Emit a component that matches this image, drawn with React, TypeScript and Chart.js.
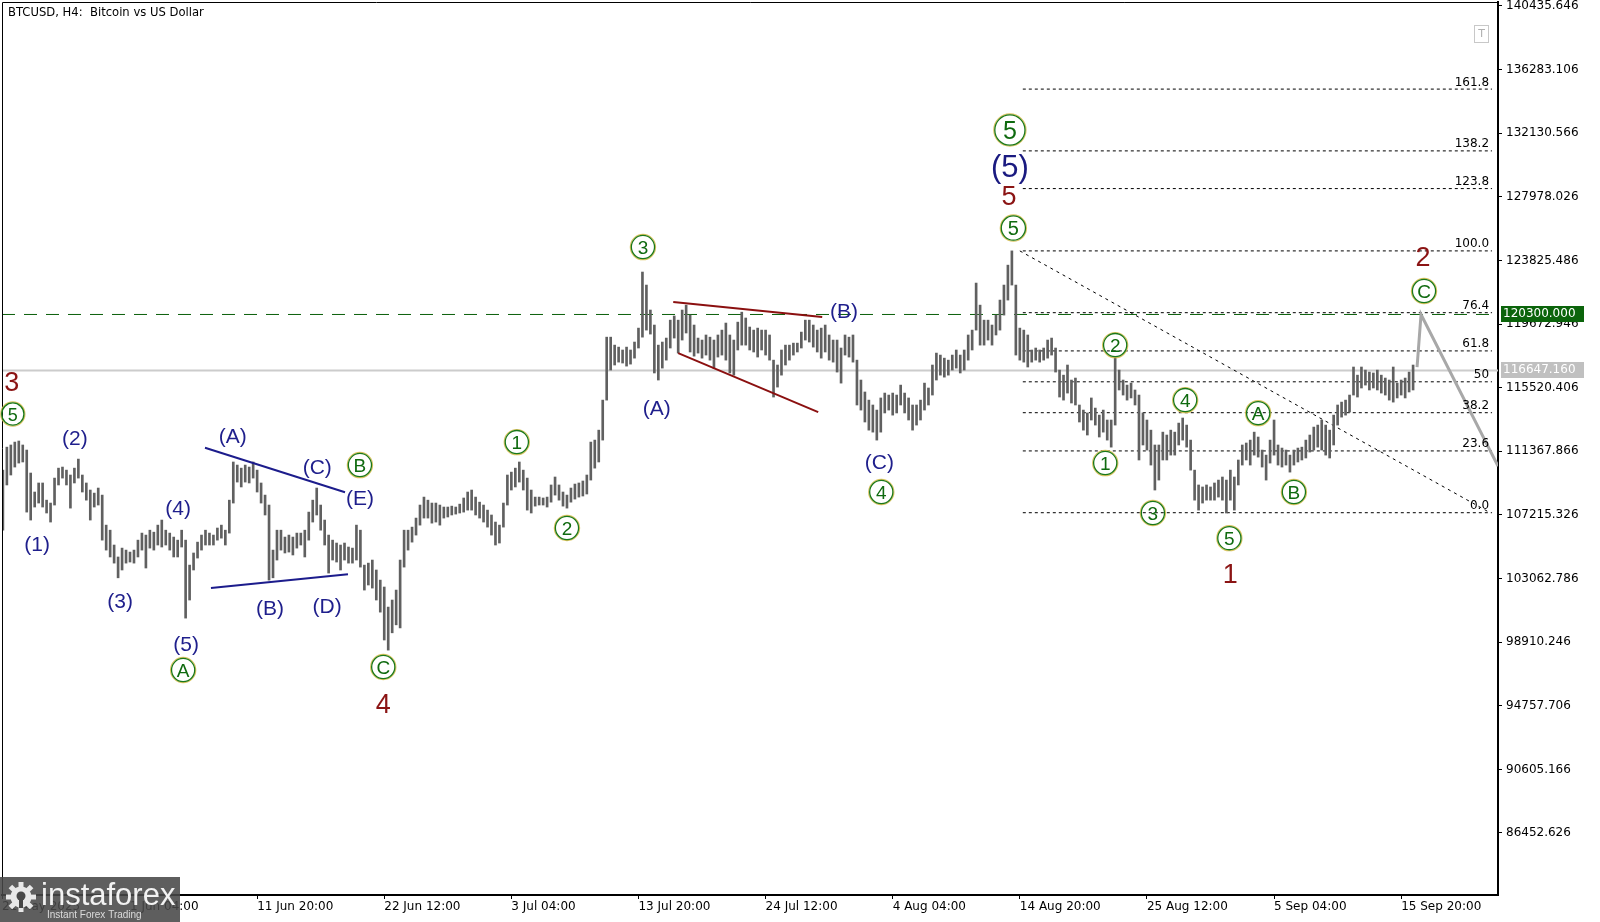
import React, { useEffect, useRef } from 'react';
import { Chart, registerables } from 'chart.js';

Chart.register(...registerables);

// ---- DATA ----
// BTCUSD, one bar per 8 hours, hours counted from 21 May 2025 00:00. Prices in thousands of USD.
const barStartHour = 12;
const barStepHours = 8;

const barHighs = [
  110.14, 111.64, 111.78, 111.97, 112.04, 111.78, 111.45, 109.95, 108.71, 109.30,
  109.30, 108.18, 107.99, 109.62, 110.27, 110.34, 110.14, 109.82, 110.27, 110.86,
  109.82, 109.30, 108.84, 108.64, 108.97, 108.51, 106.55, 106.22, 105.25, 104.47,
  105.05, 104.92, 104.79, 104.92, 105.57, 106.03, 105.90, 106.22, 106.09, 106.55,
  106.88, 106.22, 106.03, 105.77, 105.57, 106.22, 105.57, 103.94, 104.73, 105.44,
  105.90, 106.22, 106.03, 105.90, 106.36, 106.55, 106.22, 108.18, 110.67, 110.47,
  110.27, 110.47, 110.34, 110.67, 110.14, 109.30, 108.51, 107.86, 104.92, 106.22,
  106.22, 105.77, 105.90, 105.77, 106.03, 106.03, 106.22, 107.40, 108.18, 108.97,
  107.86, 106.88, 105.90, 105.57, 105.38, 105.25, 105.38, 105.12, 105.05, 106.55,
  106.22, 103.94, 104.07, 104.27, 103.62, 102.96, 102.51, 101.20, 101.66, 102.31,
  104.27, 106.22, 106.22, 106.42, 107.01, 107.86, 108.38, 108.18, 107.99, 107.99,
  107.86, 107.73, 107.73, 107.79, 107.73, 107.92, 108.32, 108.71, 108.84, 108.38,
  108.05, 107.86, 107.53, 107.21, 106.75, 106.55, 107.99, 109.82, 110.01, 110.27,
  110.67, 110.14, 109.62, 108.84, 108.38, 108.38, 108.32, 108.38, 109.17, 109.69,
  109.17, 108.71, 108.51, 108.97, 109.23, 109.30, 109.43, 109.82, 111.97, 112.10,
  112.75, 114.71, 118.82, 118.82, 118.30, 118.17, 117.98, 118.17, 117.98, 118.50,
  119.41, 123.07, 122.22, 120.59, 119.61, 118.30, 118.50, 118.76, 119.93, 120.20,
  119.93, 120.59, 120.91, 120.26, 119.61, 118.76, 118.63, 118.96, 118.82, 118.63,
  118.96, 119.28, 119.74, 118.96, 118.63, 119.80, 120.45, 120.07, 119.48, 119.28,
  119.41, 119.28, 119.28, 118.96, 117.32, 117.00, 117.98, 118.30, 118.30, 118.43,
  118.43, 119.15, 119.93, 119.93, 119.61, 119.28, 119.41, 119.61, 118.96, 118.63,
  118.63, 118.11, 118.96, 118.82, 118.96, 117.32, 116.02, 115.24, 114.71, 114.39,
  114.06, 114.85, 115.17, 115.04, 115.17, 115.04, 115.69, 115.17, 114.85, 114.39,
  114.39, 114.71, 115.82, 115.50, 117.00, 117.78, 117.65, 117.45, 117.32, 117.65,
  117.98, 117.65, 117.98, 118.96, 119.28, 122.35, 120.91, 119.93, 119.93, 119.61,
  120.26, 121.24, 122.22, 123.52, 124.45, 122.22, 119.41, 119.28, 118.96, 117.98,
  118.11, 117.98, 118.11, 118.63, 118.76, 118.11, 116.67, 116.34, 117.00, 116.02,
  116.15, 114.39, 114.06, 113.87, 114.85, 114.19, 113.73, 114.06, 113.41, 113.41,
  117.52, 116.67, 116.02, 115.69, 115.82, 115.37, 115.04, 113.87, 113.41, 112.75,
  111.78, 111.78, 112.62, 112.43, 112.75, 112.62, 113.21, 113.54, 113.08, 112.10,
  110.14, 109.17, 109.04, 109.17, 109.04, 109.30, 109.49, 109.69, 109.49, 110.14,
  109.69, 110.80, 111.78, 111.91, 112.10, 112.62, 112.30, 111.45, 111.12, 112.10,
  113.41, 111.78, 111.58, 111.45, 111.12, 111.45, 111.58, 111.64, 112.10, 112.43,
  112.95, 113.08, 113.41, 113.08, 112.75, 113.73, 114.39, 114.58, 114.71, 115.04,
  116.87, 116.34, 116.87, 116.67, 116.54, 116.48, 116.67, 116.34, 116.15, 116.02,
  116.87, 115.82, 116.02, 116.15, 116.54, 117.00,
];

const barLows = [
  106.22, 109.17, 109.82, 110.34, 110.60, 110.67, 107.40, 106.88, 107.73, 107.99,
  107.73, 107.34, 106.75, 107.86, 109.17, 109.62, 109.17, 107.66, 109.30, 109.62,
  108.71, 108.18, 106.88, 107.73, 107.86, 105.57, 104.92, 104.47, 104.07, 103.11,
  103.62, 104.07, 104.14, 104.07, 104.47, 104.92, 103.75, 105.05, 104.92, 105.25,
  105.12, 105.25, 104.92, 104.47, 104.47, 105.12, 100.48, 101.66, 103.62, 104.40,
  104.92, 105.25, 105.25, 105.25, 105.57, 105.70, 105.25, 106.03, 107.99, 109.36,
  109.04, 109.36, 109.30, 109.62, 108.71, 107.99, 107.21, 102.96, 103.11, 104.27,
  104.92, 104.73, 104.79, 104.60, 105.05, 105.25, 104.47, 105.57, 106.75, 107.21,
  106.22, 105.25, 103.42, 104.27, 104.14, 103.62, 104.27, 104.07, 104.07, 104.27,
  103.81, 102.31, 102.64, 102.44, 101.66, 100.87, 99.05, 98.39, 99.52, 100.04,
  99.84, 103.81, 104.92, 105.44, 105.90, 106.55, 107.01, 107.01, 106.68, 106.75,
  106.55, 107.01, 107.08, 107.21, 107.27, 107.34, 107.40, 107.53, 107.53, 107.21,
  107.01, 106.75, 106.42, 105.90, 105.25, 105.38, 106.42, 107.86, 108.84, 109.04,
  109.36, 108.84, 107.53, 107.34, 107.79, 107.86, 107.86, 107.73, 108.05, 108.51,
  108.18, 107.79, 107.66, 108.05, 108.25, 108.38, 108.45, 108.58, 109.49, 110.27,
  110.67, 112.10, 114.71, 116.67, 117.00, 117.19, 117.13, 116.93, 117.06, 117.45,
  118.11, 118.82, 119.28, 119.02, 116.48, 116.02, 116.80, 117.32, 118.11, 118.76,
  117.78, 118.63, 119.09, 117.85, 117.58, 117.78, 117.45, 117.65, 117.32, 116.80,
  117.52, 117.65, 117.32, 116.48, 116.34, 117.98, 118.30, 118.30, 117.98, 117.85,
  117.52, 117.98, 117.65, 117.32, 114.91, 115.56, 116.34, 117.00, 117.32, 117.65,
  117.85, 118.11, 118.63, 118.50, 118.17, 117.85, 117.45, 117.85, 117.32, 117.19,
  116.54, 115.82, 117.65, 117.52, 117.19, 114.39, 114.06, 113.28, 112.75, 112.62,
  112.10, 112.62, 113.87, 114.06, 113.73, 113.87, 114.39, 113.87, 113.41, 112.75,
  113.08, 113.41, 114.06, 114.39, 115.04, 116.02, 116.34, 116.21, 116.34, 116.67,
  116.80, 116.48, 116.67, 117.32, 117.98, 119.28, 118.30, 118.30, 118.63, 118.30,
  118.96, 119.28, 120.26, 121.24, 122.22, 117.65, 117.32, 117.19, 116.87, 117.19,
  117.32, 117.19, 117.32, 117.45, 117.65, 116.54, 114.91, 114.71, 115.17, 114.52,
  114.39, 113.28, 112.75, 112.43, 113.41, 113.08, 112.30, 112.62, 112.10, 111.64,
  113.08, 115.37, 115.04, 114.71, 114.85, 114.39, 110.80, 111.78, 111.45, 110.47,
  108.84, 109.49, 110.80, 110.80, 111.12, 111.12, 111.78, 112.10, 111.64, 110.14,
  108.18, 107.53, 107.99, 108.18, 108.18, 108.18, 108.38, 108.18, 107.34, 108.18,
  107.53, 109.17, 110.47, 110.80, 110.47, 111.12, 110.99, 110.34, 109.49, 110.60,
  111.12, 110.47, 110.34, 110.47, 110.01, 110.47, 110.67, 110.80, 110.93, 111.32,
  111.45, 111.64, 111.45, 111.12, 110.93, 111.78, 113.08, 113.60, 113.73, 113.93,
  115.04, 114.91, 115.50, 115.69, 115.37, 115.50, 115.37, 115.17, 115.04, 114.71,
  114.58, 114.85, 115.04, 114.85, 115.24, 115.37,
];

// axis ticks
const priceTicks = [
  86452.626, 90605.166, 94757.706, 98910.246, 103062.786, 107215.326, 111367.866,
  115520.406, 119672.946, 123825.486, 127978.026, 132130.566, 136283.106, 140435.646,
];
const dateTickHours = [10.2, 268, 524, 780, 1036, 1292, 1548, 1804, 2060, 2316, 2572, 2828];
const dateTickLabels = [
  '21 May 2025', '1 Jun 04:00', '11 Jun 20:00', '22 Jun 12:00', '3 Jul 04:00', '13 Jul 20:00',
  '24 Jul 12:00', '4 Aug 04:00', '14 Aug 20:00', '25 Aug 12:00', '5 Sep 04:00', '15 Sep 20:00',
];
const xMinHour = 10.2;
const xMaxHour = 3023;
const yMinK = 82.4055;
const yMaxK = 140.6967;

// levels
const targetLevel = 120.3; // 120300.000
const lastPrice = 116.64716; // 116647.160
const fibLevels = [0, 23.6, 38.2, 50, 61.8, 76.4, 100, 123.8, 138.2, 161.8];
const fibLabels = ['0.0', '23.6', '38.2', '50', '61.8', '76.4', '100.0', '123.8', '138.2', '161.8'];
const fibLow = 107.36;
const fibHigh = 124.45;
const fibStartHour = 2066;
const fibEndHour = 3011;
const fibDiagonal = [{ h: 2060, p: 124.45 }, { h: 3007, p: 107.36 }];

// drawn lines
const projectionPath = [{ h: 2860, p: 116.87 }, { h: 2868, p: 120.3 }, { h: 3023, p: 110.4 }];
const triangleUpper = [{ h: 419, p: 111.6 }, { h: 701, p: 108.7 }];
const triangleLower = [{ h: 431, p: 102.44 }, { h: 707, p: 103.34 }];
const wedgeUpper = [{ h: 1362, p: 121.11 }, { h: 1662, p: 120.13 }];
const wedgeLower = [{ h: 1372, p: 117.78 }, { h: 1654, p: 113.93 }];

// wave labels: text, anchor (hour, price), style
const waveLabels = [
  { text: '3', h: 30, p: 115.95, style: 'red' },
  { text: '5', h: 32, p: 113.8, style: 'circle', d: 23 },
  { text: '(1)', h: 81, p: 105.38, style: 'navy' },
  { text: '(2)', h: 157, p: 112.3, style: 'navy' },
  { text: '(3)', h: 248, p: 101.66, style: 'navy' },
  { text: '(4)', h: 365, p: 107.73, style: 'navy' },
  { text: '(5)', h: 381, p: 98.85, style: 'navy' },
  { text: 'A', h: 375, p: 97.09, style: 'circle', d: 24 },
  { text: '(A)', h: 475, p: 112.43, style: 'navy' },
  { text: '(B)', h: 550, p: 101.2, style: 'navy' },
  { text: '(C)', h: 645, p: 110.4, style: 'navy' },
  { text: '(D)', h: 665, p: 101.33, style: 'navy' },
  { text: '(E)', h: 731, p: 108.38, style: 'navy' },
  { text: 'B', h: 731, p: 110.47, style: 'circle', d: 24 },
  { text: 'C', h: 778, p: 97.29, style: 'circle', d: 24 },
  { text: '4', h: 778, p: 94.94, style: 'red' },
  { text: '1', h: 1047, p: 111.97, style: 'circle', d: 24 },
  { text: '2', h: 1148, p: 106.36, style: 'circle', d: 24 },
  { text: '3', h: 1301, p: 124.7, style: 'circle', d: 24 },
  { text: '(A)', h: 1329, p: 114.26, style: 'navy' },
  { text: '(B)', h: 1706, p: 120.59, style: 'navy' },
  { text: '(C)', h: 1777, p: 110.73, style: 'navy' },
  { text: '4', h: 1781, p: 108.71, style: 'circle', d: 24 },
  { text: '5', h: 2040, p: 132.34, style: 'circle', d: 31 },
  { text: '(5)', h: 2040, p: 129.99, style: 'navyBig' },
  { text: '5', h: 2038, p: 128.09, style: 'red' },
  { text: '5', h: 2047, p: 125.94, style: 'circle', d: 25 },
  { text: '1', h: 2232, p: 110.6, style: 'circle', d: 24 },
  { text: '2', h: 2252, p: 118.3, style: 'circle', d: 24 },
  { text: '3', h: 2328, p: 107.34, style: 'circle', d: 24 },
  { text: '4', h: 2393, p: 114.71, style: 'circle', d: 24 },
  { text: '5', h: 2482, p: 105.7, style: 'circle', d: 24 },
  { text: '1', h: 2484, p: 103.42, style: 'red' },
  { text: 'A', h: 2540, p: 113.86, style: 'circle', d: 24 },
  { text: 'B', h: 2612, p: 108.71, style: 'circle', d: 24 },
  { text: '2', h: 2872, p: 124.11, style: 'red' },
  { text: 'C', h: 2874, p: 121.83, style: 'circle', d: 24 },
];

const AXIS_FONT = '"DejaVu Sans", sans-serif';
const LABEL_FONT = '"Liberation Sans", Arial, sans-serif';

const overlayPlugin = {
  id: 'overlay',
  afterDraw(chart: any) {
    const { ctx, chartArea } = chart;
    const xs = chart.scales.x;
    const ys = chart.scales.y;
    ctx.save();

    // frame left / top
    ctx.strokeStyle = '#000';
    ctx.lineWidth = 1;
    ctx.beginPath();
    ctx.moveTo(2.5, chartArea.bottom);
    ctx.lineTo(2.5, 2.5);
    ctx.lineTo(chartArea.right, 2.5);
    ctx.stroke();

    // fib labels
    ctx.font = `12px ${AXIS_FONT}`;
    ctx.fillStyle = '#000';
    ctx.textAlign = 'right';
    ctx.textBaseline = 'alphabetic';
    const fibRight = xs.getPixelForValue(fibEndHour) - 3;
    fibLevels.forEach((lv, i) => {
      const yy = ys.getPixelForValue(fibLow + (lv / 100) * (fibHigh - fibLow));
      ctx.fillText(fibLabels[i], fibRight, yy - 3.5);
    });

    // wave labels
    waveLabels.forEach((l: any) => {
      const px = xs.getPixelForValue(l.h);
      const py = ys.getPixelForValue(l.p);
      ctx.textAlign = 'center';
      ctx.textBaseline = 'alphabetic';
      if (l.style === 'circle') {
        const d = l.d || 24;
        const r = d / 2;
        ctx.beginPath();
        ctx.arc(px, py, r + 0.6, 0, Math.PI * 2);
        ctx.strokeStyle = 'rgba(214,190,80,0.9)';
        ctx.lineWidth = 1.2;
        ctx.stroke();
        ctx.beginPath();
        ctx.arc(px, py, r - 0.4, 0, Math.PI * 2);
        ctx.strokeStyle = '#1a781a';
        ctx.lineWidth = 1.3;
        ctx.stroke();
        const fs = Math.round(d * 0.8);
        ctx.font = `${fs}px ${LABEL_FONT}`;
        ctx.fillStyle = '#0f6a0f';
        ctx.fillText(l.text, px, py + fs * 0.36);
      } else {
        let fs = 21;
        let color = '#1f1f8c';
        if (l.style === 'red') { fs = 27; color = '#8b1414'; }
        if (l.style === 'navyBig') { fs = 31; color = '#1a1a80'; }
        ctx.font = `${fs}px ${LABEL_FONT}`;
        ctx.fillStyle = color;
        ctx.fillText(l.text, px, py + fs * 0.36);
      }
    });

    // price boxes on axis
    const boxX = chartArea.right + 3;
    const boxW = 83;
    const drawBox = (val: number, bg: string, label: string) => {
      const yy = ys.getPixelForValue(val);
      ctx.fillStyle = bg;
      ctx.fillRect(boxX, Math.round(yy) - 8, boxW, 16);
      ctx.fillStyle = '#fff';
      ctx.font = `12px ${AXIS_FONT}`;
      ctx.textAlign = 'left';
      ctx.textBaseline = 'middle';
      ctx.fillText(label, boxX + 2, Math.round(yy));
    };
    drawBox(targetLevel, '#0b640b', (targetLevel * 1000).toFixed(3));
    drawBox(lastPrice, '#c0c0c0', (lastPrice * 1000).toFixed(3));

    // title
    ctx.fillStyle = '#000';
    ctx.font = `11.6px ${AXIS_FONT}`;
    ctx.textAlign = 'left';
    ctx.textBaseline = 'middle';
    ctx.fillText('BTCUSD, H4:  Bitcoin vs US Dollar', 8, 13);

    // "T" button
    ctx.strokeStyle = '#c8c8c8';
    ctx.lineWidth = 1;
    ctx.strokeRect(1474.5, 25.5, 14, 17);
    ctx.fillStyle = '#b0b0b0';
    ctx.font = `11px ${AXIS_FONT}`;
    ctx.textAlign = 'center';
    ctx.fillText('T', 1481.5, 34);

    // instaforex logo
    ctx.fillStyle = 'rgba(72,72,72,0.88)';
    ctx.fillRect(0, 877, 180, 45);
    const cx = 21;
    const cy = 897;
    ctx.fillStyle = '#e8e8e8';
    for (let i = 0; i < 8; i++) {
      ctx.save();
      ctx.translate(cx, cy);
      ctx.rotate((i * Math.PI) / 4);
      ctx.fillRect(-2.5, -15, 5, 7);
      ctx.restore();
    }
    ctx.beginPath();
    ctx.arc(cx, cy, 10.5, 0, Math.PI * 2);
    ctx.fill();
    ctx.fillStyle = '#484848';
    ctx.beginPath();
    ctx.arc(cx, cy - 1, 4.5, 0, Math.PI * 2);
    ctx.fill();
    ctx.fillRect(cx - 2, cy + 3, 4, 8);
    ctx.fillStyle = '#f2f2f2';
    ctx.font = `31px ${LABEL_FONT}`;
    ctx.textAlign = 'left';
    ctx.textBaseline = 'alphabetic';
    ctx.fillText('instaforex', 41, 905);
    ctx.fillStyle = '#dcdcdc';
    ctx.font = `10px ${LABEL_FONT}`;
    ctx.fillText('Instant Forex Trading', 47, 918);

    ctx.restore();
  },
};

export default function App() {
  const ref = useRef<HTMLCanvasElement>(null);

  useEffect(() => {
    const canvas = ref.current;
    if (!canvas) return;

    const bars = barHighs.map((hi, i) => ({
      x: barStartHour + i * barStepHours,
      y: [barLows[i], hi],
    }));

    const line = (pts: { h: number; p: number }[], color: string, width: number, dash: number[], order: number) => ({
      type: 'line',
      data: pts.map((q) => ({ x: q.h, y: q.p })),
      borderColor: color,
      borderWidth: width,
      borderDash: dash,
      pointRadius: 0,
      fill: false,
      tension: 0,
      order,
    });

    const fibSets = fibLevels.map((lv) => {
      const val = fibLow + (lv / 100) * (fibHigh - fibLow);
      return line([{ h: fibStartHour, p: val }, { h: fibEndHour, p: val }], '#000', 1, [3, 3], 8);
    });

    const datasets: any[] = [
      line(projectionPath, '#a8a8a8', 3, [], 0),
      line(triangleUpper, '#1c1c8c', 2, [], 1),
      line(triangleLower, '#1c1c8c', 2, [], 1),
      line(wedgeUpper, '#8b1010', 2, [], 1),
      line(wedgeLower, '#8b1010', 2, [], 1),
      {
        type: 'bar',
        data: bars,
        backgroundColor: '#606060',
        borderWidth: 0,
        barThickness: 2,
        order: 5,
      },
      line(fibDiagonal, '#000', 1, [3, 4], 8),
      ...fibSets,
      line([{ h: xMinHour, p: targetLevel }, { h: xMaxHour, p: targetLevel }], '#0b5f0b', 1, [13, 9], 9),
      line([{ h: xMinHour, p: lastPrice }, { h: xMaxHour, p: lastPrice }], '#cccccc', 2, [], 10),
    ];

    const chart = new Chart(canvas, {
      type: 'bar',
      data: { datasets },
      options: {
        animation: false,
        responsive: false,
        devicePixelRatio: 1,
        layout: { padding: { left: 2, top: 2, right: 0, bottom: 0 } },
        plugins: { legend: { display: false }, tooltip: { enabled: false } },
        scales: {
          x: {
            type: 'linear',
            position: 'bottom',
            min: xMinHour,
            max: xMaxHour,
            offset: false,
            grid: { display: true, drawOnChartArea: false, drawTicks: true, tickLength: 4, color: '#000', offset: false },
            border: { display: true, color: '#000', width: 2 },
            ticks: {
              autoSkip: false,
              maxRotation: 0,
              minRotation: 0,
              align: 'start',
              padding: 1,
              color: '#000',
              font: { family: AXIS_FONT, size: 12 },
              callback: (_v: any, i: number) => dateTickLabels[i],
            },
            afterBuildTicks: (s: any) => {
              s.ticks = dateTickHours.map((v) => ({ value: v }));
            },
            afterFit: (s: any) => {
              s.height = 27;
              s.paddingLeft = 0;
              s.paddingRight = 0;
            },
          },
          y: {
            type: 'linear',
            position: 'right',
            min: yMinK,
            max: yMaxK,
            grid: { display: true, drawOnChartArea: false, drawTicks: true, tickLength: 4, color: '#000' },
            border: { display: true, color: '#000', width: 2 },
            ticks: {
              padding: 4,
              color: '#000',
              font: { family: AXIS_FONT, size: 12 },
              callback: (_v: any, i: number) => priceTicks[i].toFixed(3),
            },
            afterBuildTicks: (s: any) => {
              s.ticks = priceTicks.map((p) => ({ value: p / 1000 }));
            },
            afterFit: (s: any) => {
              s.width = 102;
              s.paddingTop = 0;
              s.paddingBottom = 0;
            },
          },
        },
      } as any,
      plugins: [overlayPlugin],
    } as any);

    return () => chart.destroy();
  }, []);

  return (
    <div style={{ position: 'absolute', left: 0, top: 0, width: 1600, height: 922, background: '#fff' }}>
      <canvas ref={ref} width={1600} height={922} style={{ display: 'block' }} />
    </div>
  );
}
